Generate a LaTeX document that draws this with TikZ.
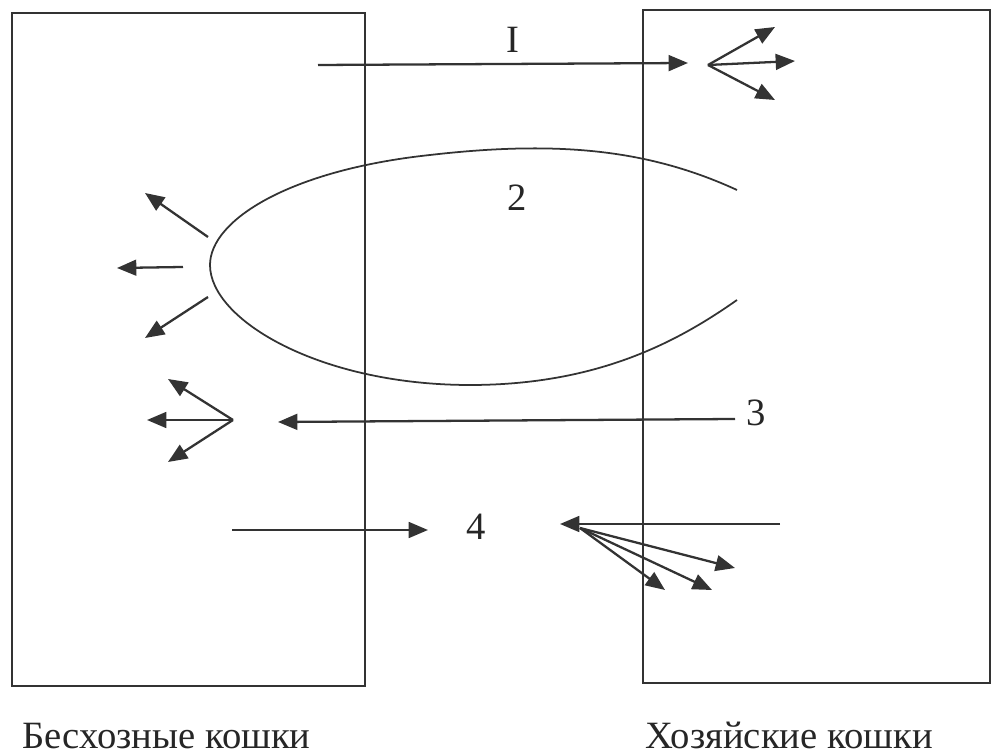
\documentclass[tikz,border=0pt]{standalone}
\usepackage{fontspec}
\setmainfont{Liberation Serif}
\usetikzlibrary{arrows.meta}
\begin{document}
\begin{tikzpicture}[x=0.02cm,y=-0.02cm,
  ln/.style={draw=black!80, line width=1.3pt},
  arr/.style={ln, -{Triangle[length=11pt,width=9pt]}},
  box/.style={draw=black!80, line width=1.1pt},
  lbl/.style={font=\fontsize{22}{24}\selectfont, text=black!85, inner sep=0pt},
  captxt/.style={font=\fontsize{22}{24}\selectfont, text=black!85, inner sep=0pt, anchor=base west}]
\useasboundingbox (0,0) rectangle (992,756);
% boxes
\draw[box] (12,13) rectangle (365,686);
\draw[box] (643,10) rectangle (990,683);
% arrow I
\coordinate (i1) at (318,65);
\coordinate (i2) at (688,63);
\draw[arr] (i1) -- (i2);
\node[lbl] (lI) at (513,40) {I};
\coordinate (f1) at (708,65);
\coordinate (f1a) at (775,27);
\coordinate (f1b) at (795,61);
\coordinate (f1c) at (775,100);
\draw[arr] (f1) -- (f1a);
\draw[arr] (f1) -- (f1b);
\draw[arr] (f1) -- (f1c);
% curve 2
\draw[black!80, line width=1pt] (737,190) .. controls (650,150) and (560,140) .. (430,155)
  .. controls (290,170) and (210,220) .. (210,265)
  .. controls (210,320) and (320,385) .. (470,385)
  .. controls (600,385) and (680,340) .. (737,300);
\node[lbl] (l2) at (517,198) {2};
\coordinate (c1) at (208,237);
\coordinate (c1e) at (145,193);
\coordinate (c2) at (183,267);
\coordinate (c2e) at (117,268);
\coordinate (c3) at (208,297);
\coordinate (c3e) at (145,338);
\draw[arr] (c1) -- (c1e);
\draw[arr] (c2) -- (c2e);
\draw[arr] (c3) -- (c3e);
% arrow 3
\coordinate (t1) at (735,419);
\coordinate (t2) at (278,422);
\draw[arr] (t1) -- (t2);
\node[lbl] (l3) at (756,413) {3};
\coordinate (f3) at (233,420);
\coordinate (f3a) at (168,379);
\coordinate (f3b) at (147,420);
\coordinate (f3c) at (168,462);
\draw[arr] (f3) -- (f3a);
\draw[arr] (f3) -- (f3b);
\draw[arr] (f3) -- (f3c);
% arrow 4
\coordinate (q1) at (232,530);
\coordinate (q2) at (428,530);
\draw[arr] (q1) -- (q2);
\node[lbl] (l4) at (476,527) {4};
\coordinate (r1) at (780,524);
\coordinate (r2) at (560,524);
\draw[arr] (r1) -- (r2);
\coordinate (f4) at (580,528);
\coordinate (f4a) at (735,568);
\coordinate (f4b) at (712,590);
\coordinate (f4c) at (665,590);
\draw[arr] (f4) -- (f4a);
\draw[arr] (f4) -- (f4b);
\draw[arr] (f4) -- (f4c);
% captions
\node[captxt] (cL) at (22,749) {Бесхозные кошки};
\node[captxt] (cR) at (645,749) {Хозяйские кошки};
\end{tikzpicture}
\end{document}
